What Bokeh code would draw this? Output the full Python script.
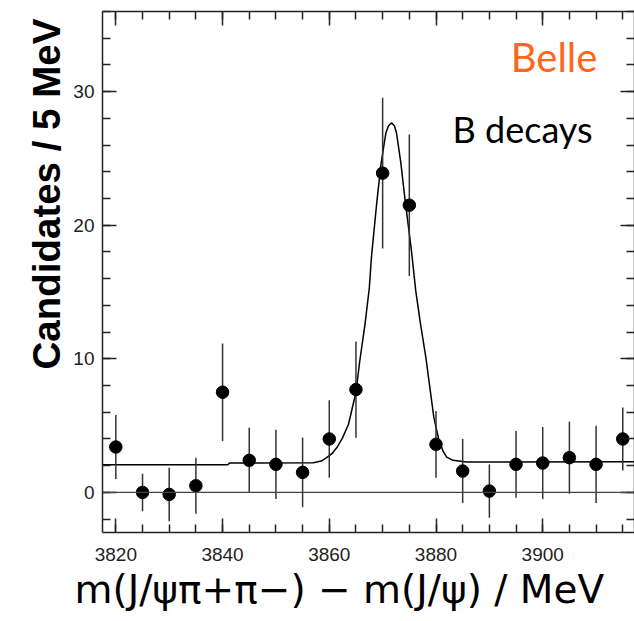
from bokeh.plotting import figure
from bokeh.models import (LinearAxis, SingleIntervalTicker, Span, Label, Range1d, Title)
from bokeh.embed import file_html
from bokeh.resources import INLINE

# ---- data ----
mass = [3820, 3825, 3830, 3835, 3840, 3845, 3850, 3855, 3860, 3865,
        3870, 3875, 3880, 3885, 3890, 3895, 3900, 3905, 3910, 3915]
counts = [3.4, 0.0, -0.15, 0.5, 7.5, 2.4, 2.1, 1.5, 4.0, 7.7,
          23.9, 21.5, 3.6, 1.6, 0.1, 2.1, 2.2, 2.6, 2.1, 4.0]
errors = [2.4, 1.4, 2.0, 2.1, 3.65, 2.45, 2.6, 2.6, 2.9, 3.6,
          5.65, 5.3, 2.5, 2.4, 2.0, 2.5, 2.7, 2.7, 2.9, 2.35]

fit_x = [3817.5, 3841.0, 3841.3, 3857.0, 3858.5, 3859.5, 3860.5, 3861.5, 3862.5,
         3863.6, 3865.0, 3865.7, 3866.7, 3867.5, 3867.9, 3868.85, 3869.7, 3870.6,
         3871.1, 3871.7, 3872.2, 3872.6, 3873.4, 3874.2, 3875.4, 3876.2, 3877.1,
         3878.1, 3879.0, 3879.6, 3880.5, 3881.3, 3882.0, 3883.2, 3885.7, 3917.5]
fit_y = [2.07, 2.07, 2.2, 2.22, 2.35, 2.6, 2.9, 3.4, 4.1,
         5.1, 7.5, 9.8, 12.6, 15.3, 17.6, 21.5, 24.6, 26.9,
         27.45, 27.66, 27.45, 26.9, 24.7, 21.9, 18.1, 15.1, 12.6,
         10.1, 7.4, 5.6, 4.0, 3.1, 2.64, 2.4, 2.27, 2.3]

x_ticks_major = 20
y_ticks_major = 10

lower = [c - e for c, e in zip(counts, errors)]
upper = [c + e for c, e in zip(counts, errors)]

p = figure(width=634, height=621, output_backend="svg", toolbar_location=None,
           x_range=Range1d(3817.5, 3917.2), y_range=Range1d(-3, 36),
           x_axis_location=None, y_axis_location=None,
           min_border_left=102, min_border_right=0, min_border_top=11,
           min_border_bottom=89)
p.grid.visible = False
p.outline_line_color = None
p.background_fill_color = "white"
p.border_fill_color = "white"

def style_axis(ax, show_labels, standoff):
    ax.major_tick_in = 14
    ax.major_tick_out = 0
    ax.minor_tick_in = 8
    ax.minor_tick_out = 0
    ax.axis_line_color = "#222222"
    ax.axis_line_width = 1.5
    ax.major_tick_line_color = "#222222"
    ax.major_tick_line_width = 1.5
    ax.minor_tick_line_color = "#222222"
    ax.minor_tick_line_width = 1.5
    ax.major_label_standoff = standoff
    if show_labels:
        ax.major_label_text_font = "Liberation Sans"
        ax.major_label_text_font_size = "19px"
        ax.major_label_text_color = "#222222"
    else:
        ax.major_label_text_font_size = "0px"
        ax.major_label_text_alpha = 0

xt = SingleIntervalTicker(interval=x_ticks_major, num_minor_ticks=4)
yt = SingleIntervalTicker(interval=y_ticks_major, num_minor_ticks=5)

xb = LinearAxis(ticker=xt); style_axis(xb, True, 15)
xa = LinearAxis(ticker=xt); style_axis(xa, False, 0)
yl = LinearAxis(ticker=yt); style_axis(yl, True, 8)
yr = LinearAxis(ticker=yt); style_axis(yr, False, 0)
p.add_layout(xb, "below")
p.add_layout(xa, "above")
p.add_layout(yl, "left")
p.add_layout(yr, "right")

p.add_layout(Title(text="m(J/\u03c8\u03c0+\u03c0\u2212) \u2212 m(J/\u03c8) / MeV",
                   align="left", offset=-28, standoff=3,
                   text_font="DejaVu Sans", text_font_size="39px",
                   text_font_style="normal", text_color="black"), "below")
p.add_layout(Title(text="Candidates / 5 MeV", align="left", offset=163, standoff=5,
                   text_font="Liberation Sans", text_font_size="38.5px",
                   text_font_style="bold", text_color="black"), "left")

p.add_layout(Span(location=0, dimension="width", line_color="#444444", line_width=1.2))

p.line(fit_x, fit_y, line_color="black", line_width=1.5)
p.segment(x0=mass, y0=lower, x1=mass, y1=upper, line_color="#333333", line_width=1.5)
p.scatter(mass, counts, size=12.5, marker="circle", fill_color="black", line_color="black")

p.add_layout(Label(x=3894.0, y=32.6, text="Belle", text_font="Lato",
                   text_font_size="40px", text_color="#ff661a",
                   text_align="left", text_baseline="alphabetic"))
p.add_layout(Label(x=3883.1, y=27.2, text="B  decays", text_font="Lato",
                   text_font_size="36px", text_color="black",
                   text_align="left", text_baseline="alphabetic"))

open("out.html", "w").write(file_html(p, INLINE))
